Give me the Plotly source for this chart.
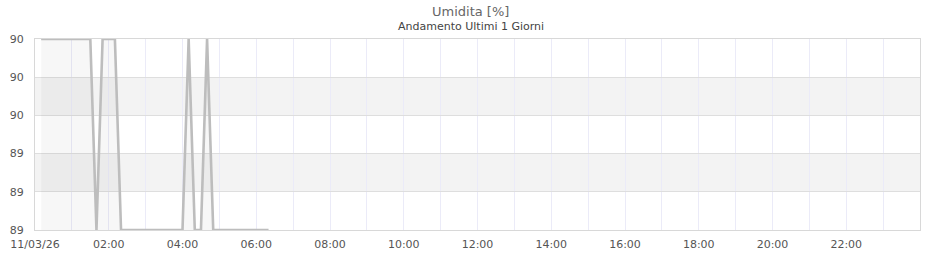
import plotly.graph_objects as go
import pandas as pd

# ---- data ----
day = "2026-03-11"
times = pd.date_range(f"{day} 00:10", f"{day} 06:20", freq="10min")
humidity = [90, 90, 90, 90, 90, 90, 90, 90, 90,
            89,
            90, 90, 90,
            89, 89, 89, 89, 89, 89, 89, 89, 89, 89, 89,
            90,
            89, 89,
            90,
            89, 89, 89, 89, 89, 89, 89, 89, 89, 89]
y_ticks = [89.0, 89.2, 89.4, 89.6, 89.8, 90.0]
y_ticklabels = ["89", "89", "89", "90", "90", "90"]
x_tick_hours = list(range(0, 24, 2))
x_ticklabels = ["11/03/26"] + [f"{h:02d}:00" for h in x_tick_hours[1:]]

title = "Umidita [%]"
subtitle = "Andamento Ultimi 1 Giorni"

start = pd.Timestamp(f"{day} 00:00")
end = start + pd.Timedelta(hours=24)
x_tickvals = [start + pd.Timedelta(hours=h) for h in x_tick_hours]

fig = go.Figure()
fig.add_trace(go.Scatter(
    x=times, y=humidity, mode="lines",
    line=dict(color="#bdbdbd", width=2.6),
    fill="tozeroy", fillcolor="rgba(0,0,0,0.03)",
    hoverinfo="skip", showlegend=False,
))

# alternating horizontal bands
shapes = []
for i in range(1, len(y_ticks) - 1, 2):
    shapes.append(dict(type="rect", xref="paper", yref="y", x0=0, x1=1,
                       y0=y_ticks[i], y1=y_ticks[i + 1],
                       fillcolor="#f3f3f3", line=dict(width=0), layer="below"))

fig.update_layout(
    width=940, height=260,
    margin=dict(l=35, r=20, t=39, b=30),
    paper_bgcolor="white", plot_bgcolor="white",
    font=dict(family="DejaVu Sans", size=11, color="#555555"),
    shapes=shapes,
    annotations=[
        dict(text=title, xref="paper", yref="paper", x=0.4921, y=1, yshift=28,
             yanchor="middle", showarrow=False,
             font=dict(size=13, color="#666666"), xanchor="center"),
        dict(text=subtitle, xref="paper", yref="paper", x=0.4921, y=1, yshift=13,
             yanchor="middle", showarrow=False,
             font=dict(size=11, color="#444444"), xanchor="center"),
    ],
)
fig.update_xaxes(
    range=[start, end], tickvals=x_tickvals, ticktext=x_ticklabels,
    showgrid=True, gridcolor="#ebebf8", gridwidth=1,
    minor=dict(dtick=3600000, showgrid=True, gridcolor="#ebebf8", gridwidth=1, tick0=start),
    showline=True, linecolor="#d8d8d8", linewidth=1, mirror=True,
    ticks="", zeroline=False, tickfont=dict(size=11, color="#555555"),
    ticklabelstandoff=4, automargin=False,
)
fig.update_yaxes(
    range=[89.0, 90.0], tickvals=y_ticks, ticktext=y_ticklabels,
    showgrid=True, gridcolor="#dedede", gridwidth=1,
    showline=True, linecolor="#d8d8d8", linewidth=1, mirror=True,
    ticks="", zeroline=False, tickfont=dict(size=11, color="#555555"),
    ticklabelstandoff=8, automargin=False,
)

fig.write_html("out.html")
